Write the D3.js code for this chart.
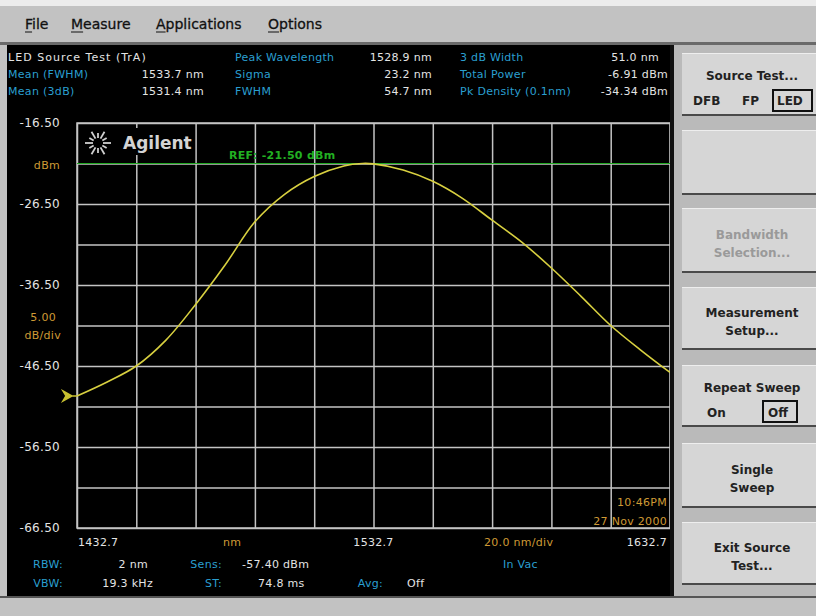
<!DOCTYPE html>
<html>
<head>
<meta charset="utf-8">
<script src="https://cdn.jsdelivr.net/npm/d3@7"></script>
<style>
  body { margin: 0; background: #c4c4c4; }
  svg { display: block; font-family: "DejaVu Sans", sans-serif; }
  .scr { font-size: 11px; letter-spacing: 0.3px; }
</style>
</head>
<body>
<svg id="chart" width="816" height="616"></svg>
<script>
// Trace data (wavelength nm, power dBm)
const wavelengths = [1432.7, 1442.7, 1452.7, 1462.7, 1472.7, 1482.7, 1492.7, 1502.7, 1512.7, 1522.7, 1528.9,
    1532.7, 1542.7, 1552.7, 1562.7, 1572.7, 1582.7, 1592.7, 1602.7, 1612.7, 1622.7, 1632.7];
const powers = [-50.2, -48.5, -46.5, -43.3, -38.9, -34.0, -28.7, -25.3, -23.1, -21.8, -21.5,
    -21.55, -22.3, -23.7, -25.8, -28.5, -31.2, -34.4, -37.9, -41.5, -44.5, -47.3];

const refLevel = -21.50;
const yTickLabels = ["-16.50", "-26.50", "-36.50", "-46.50", "-56.50", "-66.50"];
const xTickLabels = ["1432.7", "1532.7", "1632.7"];

const headerLeft = [["Mean (FWHM)", "1533.7 nm"], ["Mean (3dB)", "1531.4 nm"]];
const headerMid = [["Peak Wavelength", "1528.9 nm"], ["Sigma", "23.2 nm"], ["FWHM", "54.7 nm"]];
const headerRight = [["3 dB Width", "51.0 nm"], ["Total Power", "-6.91 dBm"], ["Pk Density (0.1nm)", "-34.34 dBm"]];

const menuItems = ["File", "Measure", "Applications", "Options"];

const svg = d3.select("#chart");

const CYAN = "#2a9fd0", ORANGE = "#cf9a35", WHITE = "#e4e4e4", GRID = "#c4c4c4";

// top strip + menu bar
svg.append("rect").attr("x", 0).attr("y", 0).attr("width", 816).attr("height", 616).attr("fill", "#c2c2c2");
svg.append("rect").attr("x", 0).attr("y", 0).attr("width", 816).attr("height", 6).attr("fill", "#ececec");
svg.append("rect").attr("x", 0).attr("y", 42).attr("width", 816).attr("height", 3).attr("fill", "#6a6a6a");

const menuX = [25, 71, 156, 268];
menuItems.forEach((m, i) => {
    const t = svg.append("text")
        .attr("x", menuX[i]).attr("y", 29)
        .attr("font-size", 14)
        .attr("fill", "#111")
        .attr("stroke", "#111").attr("stroke-width", 0.3)
        .text(m);
    const fw = t.node().getSubStringLength(0, 1);
    svg.append("line").attr("x1", menuX[i]).attr("x2", menuX[i] + fw)
        .attr("y1", 32).attr("y2", 32).attr("stroke", "#111").attr("stroke-width", 1);
});

// black measurement area
svg.append("rect").attr("x", 7).attr("y", 45).attr("width", 666).attr("height", 551).attr("fill", "#000");
svg.append("rect").attr("x", 0).attr("y", 596).attr("width", 816).attr("height", 2).attr("fill", "#555");

// header text
const info = svg.append("g").attr("class", "scr");
info.append("text").attr("x", 8).attr("y", 61).attr("fill", WHITE).attr("textLength", 138).text("LED Source Test (TrA)");
headerLeft.forEach((d, i) => {
    info.append("text").attr("x", 8).attr("y", 78 + i * 17).attr("fill", CYAN).text(d[0]);
    info.append("text").attr("x", 204).attr("y", 78 + i * 17).attr("fill", WHITE).attr("text-anchor", "end").text(d[1]);
});
headerMid.forEach((d, i) => {
    info.append("text").attr("x", 235).attr("y", 61 + i * 17).attr("fill", CYAN).text(d[0]);
    info.append("text").attr("x", 432).attr("y", 61 + i * 17).attr("fill", WHITE).attr("text-anchor", "end").text(d[1]);
});
headerRight.forEach((d, i) => {
    info.append("text").attr("x", 460).attr("y", 61 + i * 17).attr("fill", CYAN).text(d[0]);
    info.append("text").attr("x", i === 0 ? 659 : 668).attr("y", 61 + i * 17).attr("fill", WHITE).attr("text-anchor", "end").text(d[1]);
});

// plot scales
const plot = { left: 77, right: 670, top: 123, bottom: 528 };
const x = d3.scaleLinear().domain([1432.7, 1632.7]).range([plot.left, plot.right]);
const y = d3.scaleLinear().domain([-66.5, -16.5]).range([plot.bottom, plot.top]);

const xGridVals = d3.range(11).map(i => 1432.7 + i * 20);
const yGridVals = d3.range(11).map(i => -66.5 + i * 5);

// grid via axes
const gx = svg.append("g")
    .attr("transform", `translate(0,${plot.bottom})`)
    .call(d3.axisBottom(x).tickValues(xGridVals).tickSize(-(plot.bottom - plot.top)).tickFormat(""));
const gy = svg.append("g")
    .attr("transform", `translate(${plot.left},0)`)
    .call(d3.axisLeft(y).tickValues(yGridVals).tickSize(-(plot.right - plot.left)).tickFormat(""));
[gx, gy].forEach(g => {
    g.select(".domain").remove();
    g.selectAll("line").attr("stroke", GRID).attr("stroke-width", 1.5);
});
svg.append("rect").attr("x", plot.left).attr("y", plot.top)
    .attr("width", plot.right - plot.left).attr("height", plot.bottom - plot.top)
    .attr("fill", "none").attr("stroke", GRID).attr("stroke-width", 1.5);

// y labels
const yl = svg.append("g").attr("class", "scr").attr("text-anchor", "end");
yTickLabels.forEach(t => {
    yl.append("text").attr("x", 60).attr("y", y(+t) + 4).attr("font-size", 12).attr("fill", WHITE).text(t);
});
yl.append("text").attr("x", 60).attr("y", y(refLevel) + 5).attr("fill", ORANGE).text("dBm");
yl.append("text").attr("x", 56).attr("y", 321).attr("fill", ORANGE).text("5.00");
yl.append("text").attr("x", 61).attr("y", 339).attr("fill", ORANGE).text("dB/div");

// x labels
const xl = svg.append("g").attr("class", "scr").attr("fill", WHITE);
xl.append("text").attr("x", x(+xTickLabels[0]) + 1).attr("y", 546).text(xTickLabels[0]);
xl.append("text").attr("x", x(+xTickLabels[1])).attr("y", 546).attr("text-anchor", "middle").text(xTickLabels[1]);
xl.append("text").attr("x", x(+xTickLabels[2]) - 3).attr("y", 546).attr("text-anchor", "end").text(xTickLabels[2]);
xl.append("text").attr("x", 223).attr("y", 546).attr("fill", ORANGE).text("nm");
xl.append("text").attr("x", 484).attr("y", 546).attr("fill", ORANGE).text("20.0 nm/div");

// timestamp
svg.append("text").attr("class", "scr").attr("x", 667).attr("y", 506).attr("text-anchor", "end").attr("fill", ORANGE).text("10:46PM");
svg.append("text").attr("class", "scr").attr("x", 667).attr("y", 525).attr("text-anchor", "end").attr("fill", ORANGE).text("27 Nov 2000");

// Agilent logo
const logo = svg.append("g").attr("transform", "translate(98,143)");
logo.append("rect").attr("x", -17).attr("y", -15).attr("width", 100).attr("height", 27).attr("fill", "#000");
d3.range(12).forEach(i => {
    const a = i * Math.PI / 6, r1 = 5, r2 = i % 2 ? 10 : 13;
    logo.append("line")
        .attr("x1", r1 * Math.cos(a)).attr("y1", r1 * Math.sin(a))
        .attr("x2", r2 * Math.cos(a)).attr("y2", r2 * Math.sin(a))
        .attr("stroke", "#d0d0d0").attr("stroke-width", 1.8);
});
logo.append("text").attr("x", 25).attr("y", 6).attr("font-size", 17).attr("font-weight", "bold")
    .attr("fill", "#d4d4d4").text("Agilent");

// reference line
svg.append("line").attr("x1", plot.left).attr("x2", plot.right)
    .attr("y1", y(refLevel)).attr("y2", y(refLevel))
    .attr("stroke", "#21a821").attr("stroke-width", 1.2);
svg.append("text").attr("class", "scr").attr("x", 229).attr("y", y(refLevel) - 5)
    .attr("font-weight", "bold").attr("fill", "#22b022")
    .text(`REF: ${refLevel.toFixed(2)} dBm`);

// trace
const line = d3.line().x((d, i) => x(wavelengths[i])).y(d => y(d)).curve(d3.curveCatmullRom.alpha(0.5));
svg.append("path").datum(powers).attr("d", line)
    .attr("fill", "none").attr("stroke", "#d8d040").attr("stroke-width", 1.6);

// trace marker at left
const my = y(powers[0]);
svg.append("path")
    .attr("d", `M${plot.left - 14},${my - 5} L${plot.left - 5},${my} L${plot.left - 14},${my + 5} L${plot.left - 11},${my} Z M${plot.left - 6},${my} L${plot.left},${my}`)
    .attr("fill", "#c8c030").attr("stroke", "#c8c030").attr("stroke-width", 1.5);

// bottom info
const bi = svg.append("g").attr("class", "scr");
const bottomRows = [
    [["RBW:", 63, CYAN, "end"], ["2 nm", 148, WHITE, "end"], ["Sens:", 222, CYAN, "end"], ["-57.40 dBm", 242, WHITE, "start"], ["In Vac", 503, CYAN, "start"]],
    [["VBW:", 63, CYAN, "end"], ["19.3 kHz", 153, WHITE, "end"], ["ST:", 222, CYAN, "end"], ["74.8 ms", 258, WHITE, "start"], ["Avg:", 383, CYAN, "end"], ["Off", 407, WHITE, "start"]]
];
bottomRows.forEach((row, r) => {
    row.forEach(c => {
        bi.append("text").attr("x", c[1]).attr("y", 568 + r * 19).attr("fill", c[2]).attr("text-anchor", c[3]).text(c[0]);
    });
});

// right button panel
svg.append("rect").attr("x", 673).attr("y", 45).attr("width", 143).attr("height", 551).attr("fill", "#bababa");
svg.append("rect").attr("x", 670).attr("y", 45).attr("width", 4).attr("height", 551).attr("fill", "#111");
const buttons = [
    { y0: 53, y1: 116, lines: ["Source Test..."], dim: false },
    { y0: 130, y1: 195, lines: [], dim: false },
    { y0: 208, y1: 273, lines: ["Bandwidth", "Selection..."], dim: true },
    { y0: 287, y1: 350, lines: ["Measurement", "Setup..."], dim: false },
    { y0: 365, y1: 427, lines: ["Repeat Sweep"], dim: false },
    { y0: 443, y1: 508, lines: ["Single", "Sweep"], dim: false },
    { y0: 522, y1: 585, lines: ["Exit Source", "Test..."], dim: false }
];
buttons.forEach(b => {
    svg.append("rect").attr("x", 682).attr("y", b.y0).attr("width", 134).attr("height", b.y1 - b.y0).attr("fill", "#d6d6d6");
    svg.append("rect").attr("x", 682).attr("y", b.y1 - 2).attr("width", 134).attr("height", 2).attr("fill", "#4a4a4a");
    svg.append("rect").attr("x", 682).attr("y", b.y0).attr("width", 134).attr("height", 1).attr("fill", "#eeeeee");
    const single = b.lines.length === 1;
    b.lines.forEach((t, k) => {
        svg.append("text")
            .attr("x", 752)
            .attr("y", single ? b.y0 + 27 : (b.y0 + b.y1) / 2 - 2 + k * 18)
            .attr("text-anchor", "middle")
            .attr("font-size", 12).attr("font-weight", "bold")
            .attr("fill", b.dim ? "#9a9a9a" : "#222")
            .text(t);
    });
});
// option rows in buttons
const opt = svg.append("g").attr("font-size", 12).attr("font-weight", "bold").attr("fill", "#222");
opt.append("text").attr("x", 693).attr("y", 105).text("DFB");
opt.append("text").attr("x", 742).attr("y", 105).text("FP");
opt.append("text").attr("x", 777).attr("y", 105).text("LED");
opt.append("rect").attr("x", 773).attr("y", 90).attr("width", 39).attr("height", 21).attr("fill", "none").attr("stroke", "#111").attr("stroke-width", 2);
opt.append("text").attr("x", 707).attr("y", 417).text("On");
opt.append("text").attr("x", 768).attr("y", 417).text("Off");
opt.append("rect").attr("x", 763).attr("y", 401).attr("width", 34).attr("height", 21).attr("fill", "none").attr("stroke", "#111").attr("stroke-width", 2);
</script>
</body>
</html>
